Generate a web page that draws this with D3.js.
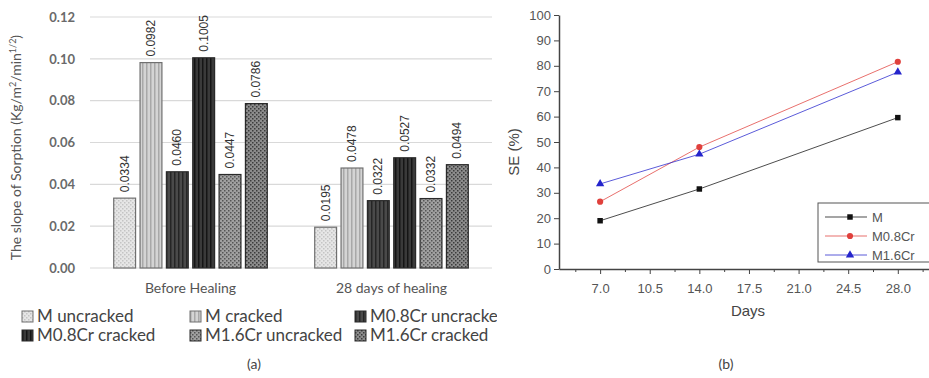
<!DOCTYPE html>
<html>
<head>
<meta charset="utf-8">
<script src="https://cdn.jsdelivr.net/npm/d3@7"></script>
<style>
  body { margin: 0; background: #fff; }
  svg { display: block; }
</style>
</head>
<body>
<div id="chart"></div>
<script>
// ---- data (a): slope of sorption ----
const groups = ['Before Healing', '28 days of healing'];
const seriesNames = ['M uncracked', 'M cracked', 'M0.8Cr uncracked', 'M0.8Cr cracked', 'M1.6Cr uncracked', 'M1.6Cr cracked'];
const beforeHealing = [0.0334, 0.0982, 0.0460, 0.1005, 0.0447, 0.0786];
const after28Days = [0.0195, 0.0478, 0.0322, 0.0527, 0.0332, 0.0494];
const sorptionTicks = [0, 0.02, 0.04, 0.06, 0.08, 0.10, 0.12];

// ---- data (b): self-healing efficiency ----
const days = [7, 14, 28];
const seM = [19, 31.5, 59.6];
const seM08 = [26.5, 48, 81.6];
const seM16 = [33.5, 45.2, 77.5];
const dayTicks = [7, 10.5, 14, 17.5, 21, 24.5, 28];
const seTicks = [0, 10, 20, 30, 40, 50, 60, 70, 80, 90, 100];

const width = 929, height = 378;
const svg = d3.select('#chart').append('svg')
  .attr('width', width)
  .attr('height', height);

const defs = svg.append('defs');

// patterns for bar fills
function stripes(id, bg, fg) {
  const p = defs.append('pattern').attr('id', id)
    .attr('patternUnits', 'userSpaceOnUse').attr('width', 4).attr('height', 4);
  p.append('rect').attr('width', 4).attr('height', 4).attr('fill', bg);
  p.append('rect').attr('x', 0).attr('width', 1.5).attr('height', 4).attr('fill', fg);
}
function dots(id, bg, fg) {
  const p = defs.append('pattern').attr('id', id)
    .attr('patternUnits', 'userSpaceOnUse').attr('width', 4).attr('height', 4);
  p.append('rect').attr('width', 4).attr('height', 4).attr('fill', bg);
  p.append('rect').attr('x', 0).attr('y', 0).attr('width', 1.5).attr('height', 1.5).attr('fill', fg);
  p.append('rect').attr('x', 2).attr('y', 2).attr('width', 1.5).attr('height', 1.5).attr('fill', fg);
}
dots('p0', '#e6e6e6', '#c4c4c4');
stripes('p1', '#d4d4d4', '#a8a8a8');
stripes('p2', '#4a4a4a', '#252525');
stripes('p3', '#3a3a3a', '#151515');
dots('p4', '#a0a0a0', '#555555');
dots('p5', '#8c8c8c', '#3c3c3c');
const fills = seriesNames.map((d, i) => `url(#p${i})`);

// ---------------- panel (a) ----------------
const a = { left: 90, right: 492, top: 17, bottom: 268 };

const x0 = d3.scaleBand().domain(groups).range([a.left, a.right]).paddingInner(0).paddingOuter(0);
const x1 = d3.scaleBand().domain(seriesNames).range([0, x0.bandwidth()]).paddingInner(0.17).paddingOuter(0.9);
const ya = d3.scaleLinear().domain([0, 0.12]).range([a.bottom, a.top]);

const ga = svg.append('g');

ga.append('g')
  .selectAll('line')
  .data(sorptionTicks)
  .join('line')
  .attr('x1', a.left).attr('x2', a.right)
  .attr('y1', d => ya(d)).attr('y2', d => ya(d))
  .attr('stroke', '#d9d9d9').attr('stroke-width', 1.2);

ga.append('g')
  .attr('transform', `translate(${a.left - 12},0)`)
  .call(d3.axisLeft(ya).tickValues(sorptionTicks).tickFormat(d3.format('.2f')).tickSize(0))
  .call(g => g.select('.domain').remove())
  .selectAll('text')
  .attr('font-family', 'Lato, "Open Sans", sans-serif')
  .attr('font-size', 13)
  .attr('font-weight', 'bold')
  .attr('fill', '#6a6a6a');

const groupData = [beforeHealing, after28Days];
const gg = ga.append('g').selectAll('g')
  .data(groups)
  .join('g')
  .attr('transform', d => `translate(${x0(d)},0)`);

gg.selectAll('rect')
  .data((g, gi) => groupData[gi].map((v, i) => ({ name: seriesNames[i], value: v, i })))
  .join('rect')
  .attr('x', d => x1(d.name))
  .attr('y', d => ya(d.value))
  .attr('width', x1.bandwidth())
  .attr('height', d => ya(0) - ya(d.value))
  .attr('fill', d => fills[d.i])
  .attr('stroke', d => d.i < 2 ? '#707070' : '#2a2a2a')
  .attr('stroke-width', 1.2);

gg.selectAll('text.val')
  .data((g, gi) => groupData[gi].map((v, i) => ({ name: seriesNames[i], value: v })))
  .join('text')
  .attr('class', 'val')
  .attr('transform', d => `translate(${x1(d.name) + x1.bandwidth() / 2 + 4},${ya(d.value) - 6}) rotate(-90)`)
  .attr('font-family', '"Liberation Sans", Arial, sans-serif')
  .attr('font-size', 12)
  .attr('fill', '#333')
  .text(d => d3.format('.4f')(d.value));

// category labels
ga.append('g')
  .attr('transform', `translate(0,${a.bottom + 12})`)
  .call(d3.axisBottom(x0).tickSize(0))
  .call(g => g.select('.domain').remove())
  .selectAll('text')
  .attr('font-family', 'Lato, "Open Sans", sans-serif')
  .attr('font-size', 14)
  .attr('fill', '#555');

ga.append('text')
  .attr('transform', `translate(21,${(a.top + a.bottom) / 2 + 5}) rotate(-90)`)
  .attr('text-anchor', 'middle')
  .attr('font-family', 'Lato, "Open Sans", sans-serif')
  .attr('font-size', 14)
  .attr('fill', '#555')
  .html('The slope of Sorption (Kg/m<tspan dy="-5" font-size="9">2</tspan><tspan dy="5">/min</tspan><tspan dy="-5" font-size="9">1/2</tspan><tspan dy="5">)</tspan>');

// legend (a)
defs.append('clipPath').attr('id', 'clipA')
  .append('rect').attr('x', 0).attr('y', 300).attr('width', 497).attr('height', 50);
const legA = ga.append('g').attr('clip-path', 'url(#clipA)');
const legCols = [22, 190, 355];
const legRows = [317, 336];
const legItems = legA.selectAll('g')
  .data(seriesNames)
  .join('g')
  .attr('transform', (d, i) => `translate(${legCols[i % 3]},${legRows[Math.floor(i / 3)]})`);
legItems.append('rect')
  .attr('x', 0).attr('y', -6).attr('width', 11).attr('height', 11)
  .attr('fill', (d, i) => fills[i])
  .attr('stroke', (d, i) => i < 2 ? '#707070' : '#2a2a2a');
legItems.append('text')
  .attr('x', 15).attr('y', 5)
  .attr('font-family', 'Lato, "Open Sans", sans-serif')
  .attr('font-size', 17)
  .attr('fill', '#444')
  .text(d => d);

svg.append('text')
  .attr('x', 254).attr('y', 369)
  .attr('text-anchor', 'middle')
  .attr('font-family', 'Lato, "Open Sans", sans-serif')
  .attr('font-size', 14)
  .attr('fill', '#444')
  .text('(a)');

// ---------------- panel (b) ----------------
const b = { left: 559, right: 929, top: 15, bottom: 269 };
const xb = d3.scaleLinear().domain([4.1, 30.2]).range([b.left, b.right]);
const yb = d3.scaleLinear().domain([0, 100]).range([b.bottom, b.top]);

const gb = svg.append('g');
const tickFont = g => g.selectAll('text')
  .attr('font-family', '"Liberation Sans", Arial, sans-serif')
  .attr('font-size', 13)
  .attr('fill', '#555');

// minor x ticks
gb.append('g')
  .attr('transform', `translate(0,${b.bottom})`)
  .call(d3.axisBottom(xb).tickValues(dayTicks.map(d => d - 1.75).concat([29.75])).tickSize(3).tickFormat(''))
  .call(g => g.select('.domain').remove())
  .selectAll('line').attr('stroke', '#444');

gb.append('g')
  .attr('transform', `translate(0,${b.bottom})`)
  .call(d3.axisBottom(xb).tickValues(dayTicks).tickSize(5).tickFormat(d3.format('.1f')).tickSizeOuter(0))
  .call(g => g.select('.domain').attr('stroke', '#444').attr('stroke-width', 1.5))
  .call(g => g.selectAll('line').attr('stroke', '#444'))
  .call(tickFont)
  .call(g => g.selectAll('text').attr('dy', '1.2em'));

gb.append('g')
  .attr('transform', `translate(${b.left},0)`)
  .call(d3.axisLeft(yb).tickValues(seTicks).tickSize(5).tickSizeOuter(0))
  .call(g => g.select('.domain').attr('stroke', '#444').attr('stroke-width', 1.5))
  .call(g => g.selectAll('line').attr('stroke', '#444'))
  .call(tickFont);

gb.append('text')
  .attr('transform', `translate(${b.left - 40},${(b.top + b.bottom) / 2 + 10}) rotate(-90)`)
  .attr('text-anchor', 'middle')
  .attr('font-family', '"Liberation Sans", Arial, sans-serif')
  .attr('font-size', 15)
  .attr('fill', '#444')
  .text('SE (%)');

gb.append('text')
  .attr('x', 748).attr('y', 316)
  .attr('text-anchor', 'middle')
  .attr('font-family', '"Liberation Sans", Arial, sans-serif')
  .attr('font-size', 15)
  .attr('fill', '#444')
  .text('Days');

const lineSeries = [
  { name: 'M', values: seM, color: '#111111', shape: d3.symbolSquare },
  { name: 'M0.8Cr', values: seM08, color: '#e0403c', shape: d3.symbolCircle },
  { name: 'M1.6Cr', values: seM16, color: '#2424cc', shape: d3.symbolTriangle }
];
const line = d3.line().x(d => xb(d.day)).y(d => yb(d.value));

lineSeries.forEach(s => {
  const pts = days.map((d, i) => ({ day: d, value: s.values[i] }));
  gb.append('path')
    .datum(pts)
    .attr('d', line)
    .attr('fill', 'none')
    .attr('stroke', s.color)
    .attr('stroke-width', 1)
    .attr('opacity', 0.75);
  gb.append('g').selectAll('path')
    .data(pts)
    .join('path')
    .attr('transform', d => `translate(${xb(d.day)},${yb(d.value)})`)
    .attr('d', d3.symbol().type(s.shape).size(30))
    .attr('fill', s.color);
});

// legend (b)
const legB = gb.append('g').attr('transform', 'translate(818,203)');
legB.append('rect')
  .attr('width', 115).attr('height', 59)
  .attr('fill', '#fff').attr('stroke', '#555').attr('stroke-width', 1);
const lbItems = legB.selectAll('g')
  .data(lineSeries)
  .join('g')
  .attr('transform', (d, i) => `translate(0,${14 + i * 19})`);
lbItems.append('line')
  .attr('x1', 7).attr('x2', 49)
  .attr('stroke', d => d.color).attr('stroke-width', 1).attr('opacity', 0.75);
lbItems.append('path')
  .attr('transform', 'translate(32,0)')
  .attr('d', d => d3.symbol().type(d.shape).size(30)())
  .attr('fill', d => d.color);
lbItems.append('text')
  .attr('x', 54).attr('y', 5)
  .attr('font-family', '"Liberation Sans", Arial, sans-serif')
  .attr('font-size', 13)
  .attr('fill', '#555')
  .text(d => d.name);

svg.append('text')
  .attr('x', 726).attr('y', 369)
  .attr('text-anchor', 'middle')
  .attr('font-family', 'Lato, "Open Sans", sans-serif')
  .attr('font-size', 14)
  .attr('fill', '#444')
  .text('(b)');
</script>
</body>
</html>
